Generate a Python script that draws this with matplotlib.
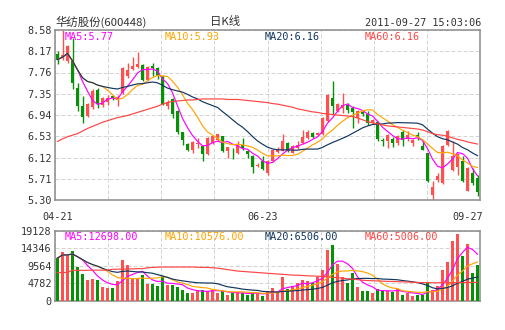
import matplotlib
matplotlib.use("Agg")
import matplotlib.pyplot as plt
import numpy as np
import pandas as pd

# ---- data (85 daily candles, 2011-04-21 .. 2011-09-27) ----
open_ = [8.12, 8.04, 7.98, 7.99, 7.46, 7.12, 6.93, 7.09, 7.43, 7.13,
         7.19, 7.31, 7.23, 7.37, 7.69, 7.82, 7.86, 7.91, 7.62, 7.88,
         7.84, 7.69, 7.11, 7.25, 7.01, 6.61, 6.38, 6.27, 6.39, 6.34,
         6.18, 6.40, 6.46, 6.53, 6.24, 6.25, 6.21, 6.36, 6.25, 6.14,
         5.95, 6.06, 5.82, 6.05, 6.23, 6.25, 6.40, 6.21, 6.30, 6.40,
         6.50, 6.59, 6.55, 6.57, 6.82, 7.26, 7.02, 7.08, 7.14, 7.08,
         6.88, 7.00, 6.96, 6.79, 6.80, 6.45, 6.43, 6.48, 6.40, 6.61,
         6.48, 6.40, 6.56, 6.35, 6.21, 5.40, 5.69, 5.63, 6.36, 5.87,
         5.93, 6.06, 5.48, 5.82, 5.72]
close = [8.01, 8.10, 8.27, 7.56, 7.12, 6.90, 7.15, 7.40, 7.15, 7.26,
         7.27, 7.26, 7.29, 7.85, 7.80, 7.89, 7.92, 7.62, 7.86, 7.85,
         7.69, 7.15, 7.19, 6.96, 6.61, 6.46, 6.27, 6.42, 6.40, 6.18,
         6.50, 6.53, 6.57, 6.24, 6.32, 6.24, 6.36, 6.30, 6.18, 5.93,
         5.98, 5.89, 6.06, 6.27, 6.29, 6.43, 6.24, 6.34, 6.37, 6.51,
         6.61, 6.51, 6.59, 6.88, 7.33, 7.11, 7.15, 7.13, 7.04, 7.00,
         7.01, 6.96, 6.79, 6.85, 6.48, 6.44, 6.56, 6.40, 6.53, 6.45,
         6.56, 6.46, 6.51, 6.27, 5.66, 5.56, 5.76, 6.35, 6.64, 6.14,
         6.19, 5.66, 5.91, 5.62, 5.45]
high = [8.18, 8.58, 8.29, 8.42, 7.56, 7.30, 7.17, 7.45, 7.46, 7.29,
        7.33, 7.33, 7.32, 7.87, 7.95, 8.06, 8.15, 7.93, 7.88, 7.94,
        7.86, 7.72, 7.22, 7.27, 7.03, 6.62, 6.40, 6.43, 6.50, 6.35,
        6.51, 6.55, 6.58, 6.54, 6.33, 6.30, 6.43, 6.50, 6.27, 6.16,
        6.01, 6.14, 6.07, 6.28, 6.33, 6.57, 6.41, 6.37, 6.43, 6.66,
        6.66, 6.61, 6.61, 6.90, 7.34, 7.59, 7.17, 7.37, 7.17, 7.11,
        7.04, 7.02, 7.01, 6.87, 6.82, 6.50, 6.57, 6.51, 6.56, 6.66,
        6.63, 6.47, 6.61, 6.46, 6.21, 5.66, 5.82, 6.37, 6.66, 6.44,
        6.21, 6.14, 5.93, 5.92, 5.79]
low = [7.93, 8.00, 7.95, 7.44, 7.02, 6.79, 6.91, 7.06, 7.08, 7.10,
       7.13, 7.22, 7.11, 7.35, 7.66, 7.80, 7.84, 7.60, 7.60, 7.69,
       7.64, 7.13, 7.05, 6.88, 6.58, 6.37, 6.25, 6.21, 6.30, 6.05,
       6.17, 6.38, 6.44, 6.22, 6.11, 6.10, 6.19, 6.27, 6.11, 5.82,
       5.93, 5.87, 5.79, 6.04, 6.21, 6.24, 6.22, 6.20, 6.28, 6.38,
       6.48, 6.49, 6.53, 6.55, 6.80, 6.96, 7.00, 6.98, 6.98, 6.69,
       6.79, 6.93, 6.75, 6.77, 6.44, 6.34, 6.30, 6.32, 6.37, 6.34,
       6.43, 6.34, 6.46, 6.27, 5.65, 5.30, 5.65, 5.60, 6.34, 5.85,
       5.79, 5.65, 5.47, 5.58, 5.37]
volume = [11660, 13300, 12570, 13480, 9110, 7290, 5740, 5920, 5740, 3640,
          3460, 3460, 5470, 11200, 9660, 6010, 6190, 7100, 4550, 4550,
          3920, 6650, 4190, 4370, 3640, 3000, 2100, 2100, 2800, 3000,
          2730, 3000, 2100, 2550, 1640, 2100, 2280, 2100, 1640, 2100,
          2100, 1370, 2550, 3460, 2370, 6380, 3190, 3920, 4830, 5740,
          5280, 4830, 6380, 8470, 13940, 15300, 9900, 6500, 4800, 7700,
          3640, 2730, 2730, 2100, 3190, 3000, 2550, 2370, 3190, 1640,
          2100, 1370, 1640, 1640, 4860, 3050, 3920, 8300, 10600, 16400,
          18300, 12300, 15400, 7600, 9890]
ma60_price = [6.43, 6.48, 6.52, 6.55, 6.58, 6.63, 6.68, 6.72, 6.76, 6.80,
              6.83, 6.86, 6.89, 6.91, 6.93, 6.96, 6.99, 7.02, 7.05, 7.08,
              7.11, 7.15, 7.18, 7.20, 7.21, 7.22, 7.23, 7.23, 7.24, 7.25,
              7.25, 7.25, 7.25, 7.25, 7.24, 7.24, 7.24, 7.23, 7.22, 7.21,
              7.20, 7.19, 7.18, 7.16, 7.15, 7.13, 7.11, 7.09, 7.06, 7.04,
              7.02, 7.00, 6.99, 6.97, 6.96, 6.95, 6.94, 6.93, 6.92, 6.91,
              6.88, 6.85, 6.81, 6.79, 6.77, 6.75, 6.73, 6.72, 6.71, 6.70,
              6.69, 6.68, 6.67, 6.65, 6.62, 6.58, 6.56, 6.55, 6.53, 6.50,
              6.47, 6.45, 6.42, 6.40, 6.38]
ma60_volume = [7700, 7700, 7750, 8300, 8300, 8300, 8300, 8350, 8350, 8350,
               8350, 8600, 8600, 8650, 8650, 8700, 8750, 8750, 9000, 9100,
               9150, 9200, 9200, 9200, 9200, 9200, 9200, 9200, 9150, 9100,
               9100, 9000, 8900, 8700, 8500, 8300, 8100, 8000, 7900, 7800,
               7700, 7600, 7500, 7400, 7300, 7200, 7100, 7000, 6950, 6900,
               6800, 6750, 6700, 6600, 6500, 6400, 6300, 6150, 6000, 5900,
               5750, 5600, 5500, 5450, 5400, 5350, 5300, 5250, 5200, 5150,
               5100, 5050, 5000, 4950, 4950, 4900, 4900, 4900, 4900, 4920,
               4950, 4960, 4980, 5000, 5006]

date_labels = ["04-21", "06-23", "09-27"]
date_index = [0, 41, 84]
price_ticks = [5.30, 5.71, 6.12, 6.53, 6.94, 7.35, 7.76, 8.17, 8.58]
volume_ticks = [0, 4782, 9564, 14346, 19128]
price_ma_text = ["MA5:5.77", "MA10:5.93", "MA20:6.16", "MA60:6.16"]
volume_ma_text = ["MA5:12698.00", "MA10:10576.00", "MA20:6506.00", "MA60:5006.00"]

RED = "#ff4f4f"
GREEN = "#079107"
MA_COLORS = ["#ff00ff", "#ffa500", "#12355f", "#ff4444"]
GRID = "#d4d4d4"
FRAME = "#8c8c8c"
TEXT = "#333333"
MONO = "DejaVu Sans Mono"

W, H = 505, 330


def px(x, y):
    return x / W, 1 - y / H


def style_axes(ax, ylim, ticks, labels):
    ax.set_xlim(0, len(close))
    ax.set_ylim(*ylim)
    ax.set_xticks(np.linspace(0, len(close), 9))
    ax.set_xticklabels([])
    ax.set_yticks(ticks)
    ax.set_yticklabels(labels, family=MONO, fontsize=7.3, color=TEXT)
    ax.tick_params(length=0, pad=2.5)
    ax.grid(True, color=GRID, linestyle=(0, (4, 2)), linewidth=0.72)
    ax.set_axisbelow(True)
    for sp in ax.spines.values():
        sp.set_color(FRAME)
        sp.set_linewidth(1.1)


fig = plt.figure(figsize=(W / 100, H / 100), dpi=100)
fig.patch.set_facecolor("white")
ax = fig.add_axes([55 / W, 1 - 200 / H, 425 / W, 170 / H])
axv = fig.add_axes([55 / W, 1 - 300.7 / H, 425 / W, 70 / H])

df = pd.DataFrame({"open": open_, "close": close, "high": high, "low": low, "vol": volume})
x = np.arange(len(df)) + 0.5
up = df["close"] >= df["open"]
colors = np.where(up, RED, GREEN)

# candles
body_bottom = np.minimum(df["open"], df["close"])
body_h = np.maximum((df["close"] - df["open"]).abs(), 0.012)
ax.vlines(x, df["low"], df["high"], colors=colors, linewidth=1.0, zorder=2)
ax.bar(x, body_h, bottom=body_bottom, width=0.78, color=colors, linewidth=0, zorder=3)

# moving averages
price_ma = [df["close"].rolling(n, min_periods=1).mean() for n in (5, 10, 20)]
price_ma.append(pd.Series(ma60_price))
for s, c in zip(price_ma, MA_COLORS):
    ax.plot(x, s, color=c, linewidth=0.85, zorder=4)

style_axes(ax, (5.30, 8.58), price_ticks, [f"{t:.2f}" for t in price_ticks])

# volume
axv.bar(x, df["vol"], width=0.78, color=colors, linewidth=0, zorder=3)
vol_ma = [df["vol"].rolling(n, min_periods=1).mean() for n in (5, 10, 20)]
vol_ma.append(pd.Series(ma60_volume))
for s, c in zip(vol_ma, MA_COLORS):
    axv.plot(x, s, color=c, linewidth=0.85, zorder=4)
style_axes(axv, (0, 19128), volume_ticks, [str(t) for t in volume_ticks])

# header texts
fig.text(*px(55, 21.5), "华纺股份(600448)", family=["Noto Sans CJK SC", "DejaVu Sans"],
         fontsize=8.2, color=TEXT, ha="left", va="center")
fig.text(*px(225, 21.5), "日K线", family=["Noto Sans CJK SC", "DejaVu Sans"],
         fontsize=8.2, color=TEXT, ha="center", va="center")
fig.text(*px(481, 22.5), "2011-09-27 15:03:06", family=MONO, fontsize=7.3,
         color=TEXT, ha="right", va="center")

for k, (t, c) in enumerate(zip(price_ma_text, MA_COLORS)):
    fig.text(*px(65 + 100 * k, 36.5), t, family=MONO, fontsize=7.3, color=c, ha="left", va="center")
for k, (t, c) in enumerate(zip(volume_ma_text, MA_COLORS)):
    fig.text(*px(65 + 100 * k, 237), t, family=MONO, fontsize=7.3, color=c, ha="left", va="center")

# date labels under the price panel
for lbl, i in zip(date_labels, date_index):
    if i == len(close) - 1:
        ax.text(len(close) + 0.6, -0.1, lbl, transform=ax.get_xaxis_transform(), family=MONO,
                fontsize=7.3, color=TEXT, ha="right", va="center")
    else:
        ax.text(x[i], -0.1, lbl, transform=ax.get_xaxis_transform(), family=MONO,
                fontsize=7.3, color=TEXT, ha="center", va="center")

fig.savefig("out.png", dpi=100, facecolor="white")
